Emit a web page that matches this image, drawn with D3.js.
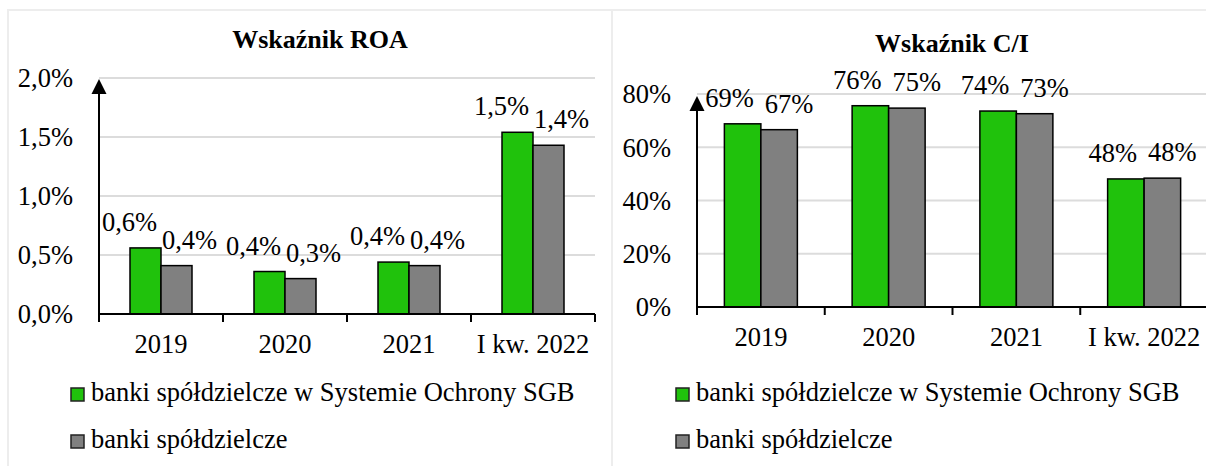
<!DOCTYPE html>
<html>
<head>
<meta charset="utf-8">
<script src="https://cdn.jsdelivr.net/npm/d3@7"></script>
<style>
  body { margin: 0; background: #fff; }
  svg text { font-family: "Liberation Serif", "Times New Roman", serif; fill: #000; }
</style>
</head>
<body>
<div id="chart"></div>
<script>
// Data
const categories = ['2019', '2020', '2021', 'I kw. 2022'];
const seriesNames = ['banki spółdzielcze w Systemie Ochrony SGB', 'banki spółdzielcze'];
const seriesColors = ['#20c20c', '#808080'];

const roaSgb = [0.56, 0.36, 0.44, 1.54];
const roaAll = [0.41, 0.30, 0.41, 1.43];
const roaTicks = [0, 0.5, 1.0, 1.5, 2.0];

const ciSgb = [68.8, 75.6, 73.6, 48.1];
const ciAll = [66.6, 74.7, 72.6, 48.4];
const ciTicks = [0, 20, 40, 60, 80];

const W = 1206, H = 466;
const fontSize = '26.5px';

const svg = d3.select('#chart').append('svg')
    .attr('width', W)
    .attr('height', H);

// panel frames
svg.append('rect').attr('x', 8).attr('y', 10).attr('width', 604).attr('height', 470)
    .attr('fill', 'none').attr('stroke', '#ededed').attr('stroke-width', 2);
svg.append('rect').attr('x', 612).attr('y', 10).attr('width', 600).attr('height', 470)
    .attr('fill', 'none').attr('stroke', '#ededed').attr('stroke-width', 2);

function drawPanel(cfg) {
    const g = svg.append('g');

    const x0 = d3.scaleBand()
        .domain(categories)
        .range([cfg.left, cfg.right])
        .padding(0);

    const x1 = d3.scaleBand()
        .domain([0, 1])
        .range([0, x0.bandwidth()])
        .paddingInner(0)
        .paddingOuter(cfg.outer);

    const y = d3.scaleLinear()
        .domain([0, cfg.max])
        .range([cfg.bottom, cfg.top]);

    // title
    g.append('text')
        .attr('x', cfg.titleX)
        .attr('y', cfg.titleY)
        .attr('text-anchor', 'middle')
        .style('font-size', '26px')
        .style('font-weight', '700')
        .text(cfg.title);

    // gridlines
    g.selectAll('.grid')
        .data(cfg.ticks.filter(d => d > 0))
        .enter().append('line')
        .attr('x1', cfg.left)
        .attr('x2', cfg.right)
        .attr('y1', d => y(d))
        .attr('y2', d => y(d))
        .attr('stroke', '#dcdcdc')
        .attr('stroke-width', 2);

    // y tick labels
    g.selectAll('.ytick')
        .data(cfg.ticks)
        .enter().append('text')
        .attr('x', cfg.left - 26)
        .attr('y', d => y(d))
        .attr('dy', '0.35em')
        .attr('text-anchor', 'end')
        .style('font-size', fontSize)
        .text(cfg.tickFmt);

    // bars
    const series = [cfg.a, cfg.b];
    series.forEach((vals, si) => {
        g.selectAll('.bar' + si)
            .data(vals)
            .enter().append('rect')
            .attr('x', (d, i) => x0(categories[i]) + x1(si))
            .attr('y', d => y(d))
            .attr('width', x1.bandwidth())
            .attr('height', d => y(0) - y(d))
            .attr('fill', seriesColors[si])
            .attr('stroke', '#000')
            .attr('stroke-width', 1.5);

        // value labels (shifted outwards as in the original)
        g.selectAll('.lbl' + si)
            .data(vals)
            .enter().append('text')
            .attr('x', (d, i) => x0(categories[i]) + x1(si) + x1.bandwidth() / 2 + (si === 0 ? -cfg.shiftL : cfg.shiftR))
            .attr('y', d => y(d) - 17)
            .attr('text-anchor', 'middle')
            .style('font-size', fontSize)
            .text(cfg.valFmt);
    });

    // x axis line and ticks
    g.append('line')
        .attr('x1', cfg.left).attr('x2', cfg.right)
        .attr('y1', y(0)).attr('y2', y(0))
        .attr('stroke', '#000').attr('stroke-width', 2);

    const bounds = categories.map(c => x0(c)).concat([cfg.right]);
    g.selectAll('.xtick')
        .data(bounds)
        .enter().append('line')
        .attr('x1', d => d).attr('x2', d => d)
        .attr('y1', y(0)).attr('y2', y(0) + 8)
        .attr('stroke', '#000').attr('stroke-width', 2);

    g.selectAll('.xlabel')
        .data(categories)
        .enter().append('text')
        .attr('x', d => x0(d) + x0.bandwidth() / 2)
        .attr('y', y(0) + 39)
        .attr('text-anchor', 'middle')
        .style('font-size', fontSize)
        .text(d => d);

    // y axis with arrow head
    g.append('line')
        .attr('x1', cfg.left).attr('x2', cfg.left)
        .attr('y1', y(0) + 8).attr('y2', cfg.arrowTip + 10)
        .attr('stroke', '#000').attr('stroke-width', 2);
    g.append('path')
        .attr('d', `M${cfg.left},${cfg.arrowTip} L${cfg.left - 7.5},${cfg.arrowTip + 15} L${cfg.left + 7.5},${cfg.arrowTip + 15} Z`)
        .attr('fill', '#000');

    // legend
    seriesNames.forEach((name, i) => {
        const ly = 388 + i * 47;
        g.append('rect')
            .attr('x', cfg.legendX)
            .attr('y', ly)
            .attr('width', 13)
            .attr('height', 13)
            .attr('fill', seriesColors[i])
            .attr('stroke', '#222')
            .attr('stroke-width', 1.5);
        g.append('text')
            .attr('x', cfg.legendX + 20)
            .attr('y', ly + 13)
            .style('font-size', fontSize)
            .text(name);
    });
}

drawPanel({
    title: 'Wskaźnik ROA', titleX: 320, titleY: 48,
    a: roaSgb, b: roaAll, ticks: roaTicks, max: 2.0,
    left: 99, right: 595, top: 78, bottom: 314, outer: 1,
    arrowTip: 79, shiftL: 16, shiftR: 13, legendX: 71,
    tickFmt: d => d.toFixed(1).replace('.', ',') + '%',
    valFmt: d => d.toFixed(1).replace('.', ',') + '%'
});

drawPanel({
    title: 'Wskaźnik C/I', titleX: 952, titleY: 52,
    a: ciSgb, b: ciAll, ticks: ciTicks, max: 80,
    left: 697, right: 1208, top: 94, bottom: 307, outer: 0.75,
    arrowTip: 96, shiftL: 13, shiftR: 10, legendX: 676,
    tickFmt: d => d.toFixed(0) + '%',
    valFmt: d => d.toFixed(0) + '%'
});
</script>
</body>
</html>
